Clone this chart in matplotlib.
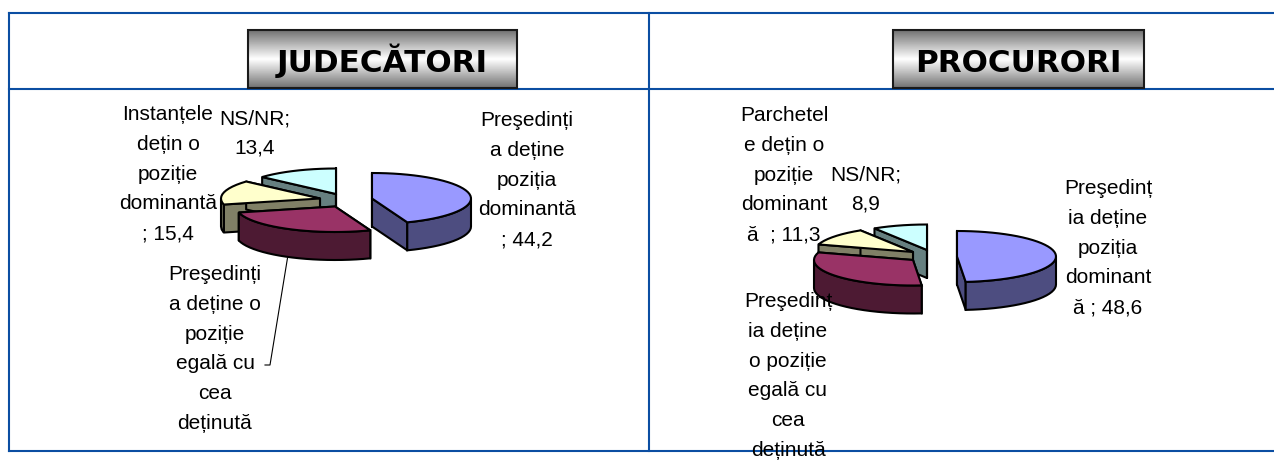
import numpy as np
import matplotlib
matplotlib.use("Agg")
import matplotlib.pyplot as plt
from matplotlib.patches import Polygon, Rectangle

# ================ Data ================
judges_values = [44.2, 27.0, 15.4, 13.4]
judges_labels = [
    "Preşedinți\na deține\npoziția\ndominantă\n; 44,2",
    "Preşedinți\na deține o\npoziție\negală cu\ncea\ndeținută",
    "Instanțele\ndețin o\npoziție\ndominantă\n; 15,4",
    "NS/NR;\n13,4",
]
prosecutors_values = [48.6, 31.2, 11.3, 8.9]
prosecutors_labels = [
    "Preşedinț\nia deține\npoziția\ndominant\nă ; 48,6",
    "Preşedinț\nia deține\no poziție\negală cu\ncea\ndeținută",
    "Parchetel\ne dețin o\npoziție\ndominant\nă  ; 11,3",
    "NS/NR;\n8,9",
]

# ================ Styles ================
W, H = 1274, 465
BORDER = "#0B4EA2"
TOP_COLORS = ["#9999FF", "#993366", "#FFFFCC", "#CCFFFF"]
SIDE_COLORS = ["#4D4D80", "#4D1A33", "#808066", "#668080"]
FONT = "Liberation Sans"
RX, RY, DEPTH = 99.0, 25.5, 28.0


def arc_points(center, a0, a1):
    """Points on the ellipse, angles clockwise from 12 o'clock in degrees"""
    t = np.radians(np.linspace(a0, a1, max(int(abs(a1 - a0) / 4), 2)))
    return np.column_stack([center[0] + RX * np.sin(t), center[1] - RY * np.cos(t)])


def draw_slice(ax, center, a0, a1, top, side):
    """One extruded slice: cut faces, then the front rim, then the top"""
    arc = arc_points(center, a0, a1)
    down = np.array([0, DEPTH])
    apex = np.array(center, dtype=float)
    for end in (arc[0], arc[-1]):
        face = [apex, end, end + down, apex + down]
        ax.add_patch(Polygon(face, fc=side, ec="black", lw=1.5, joinstyle="round"))
    f0, f1 = max(a0, 90), min(a1, 270)
    if f1 > f0:
        rim = arc_points(center, f0, f1)
        ax.add_patch(Polygon(np.vstack([rim, (rim + down)[::-1]]), fc=side, ec="black", lw=1.5))
    ax.add_patch(Polygon(np.vstack([apex, arc]), fc=top, ec="black", lw=1.5))


def draw_pie(ax, values, apexes):
    """Slices run clockwise from 12 o'clock, painted back to front"""
    edges = np.concatenate([[0], np.cumsum(values)]) / np.sum(values) * 360
    for i in [3, 2, 1, 0]:
        draw_slice(ax, apexes[i], edges[i], edges[i + 1], TOP_COLORS[i], SIDE_COLORS[i])


def draw_label(ax, x, y, text):
    ax.text(x, y, text, ha="center", va="top", family=FONT, fontsize=15,
            linespacing=1.72, color="black", zorder=5)


def draw_header(ax, x0, x1, y0, y1, text):
    ramp = 0.45 + 0.55 * (1 - np.abs(np.linspace(-1, 1, 64)))
    ax.imshow(ramp[:, None], extent=(x0, x1, y1, y0), cmap="gray", vmin=0, vmax=1,
              aspect="auto", zorder=3)
    ax.add_patch(Rectangle((x0, y0), x1 - x0, y1 - y0, fc="none", ec="#1A1A1A", lw=1.5, zorder=4))
    ax.text((x0 + x1) / 2, 72, text, ha="center", va="baseline",
            family="DejaVu Sans", weight="bold", fontsize=22.3, color="black", zorder=5)


fig = plt.figure(figsize=(W / 100, H / 100), dpi=100)
ax = fig.add_axes([0, 0, 1, 1])
ax.set_xlim(0, W)
ax.set_ylim(H, 0)
ax.axis("off")

# Table frame
ax.plot([9, W], [13, 13], color=BORDER, lw=1.5)
ax.plot([9, W], [89, 89], color=BORDER, lw=1.5)
ax.plot([9, W], [451, 451], color=BORDER, lw=1.5)
ax.plot([9, 9], [13, 451], color=BORDER, lw=1.5)
ax.plot([648.5, 648.5], [13, 451], color=BORDER, lw=1.5)

draw_header(ax, 248, 517, 30, 88, "JUDECĂTORI")
draw_header(ax, 893, 1144, 30, 88, "PROCURORI")

# Judges
draw_pie(ax, judges_values, [(372, 198.5), (335, 206.5), (320, 198.5), (336, 194)])
ax.plot([287.5, 270, 265], [258, 365, 365], color="black", lw=0.8)
draw_label(ax, 527, 111, judges_labels[0])
draw_label(ax, 215, 265, judges_labels[1])
draw_label(ax, 168, 105, judges_labels[2])
draw_label(ax, 255, 109, judges_labels[3])

# Prosecutors
draw_pie(ax, prosecutors_values, [(957, 256.5), (913, 260), (913, 252), (927, 250)])
draw_label(ax, 1108, 179, prosecutors_labels[0])
draw_label(ax, 788, 292, prosecutors_labels[1])
draw_label(ax, 784, 106, prosecutors_labels[2])
draw_label(ax, 866, 165, prosecutors_labels[3])

ax.set_xlim(0, W)
ax.set_ylim(H, 0)
fig.savefig("out.png", dpi=100)
